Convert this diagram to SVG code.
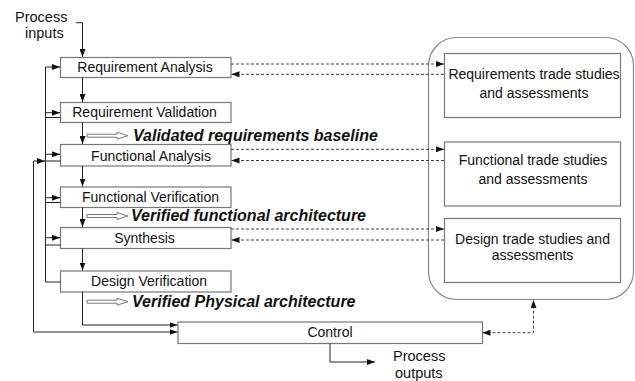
<svg xmlns="http://www.w3.org/2000/svg" width="635" height="381" viewBox="0 0 635 381">
<style>
.box{fill:#fff;stroke:#777;stroke-width:1.2}
.ln{fill:none;stroke:#222;stroke-width:1}
.dl{fill:none;stroke:#444;stroke-width:1;stroke-dasharray:3 2}
.t{font-family:"Liberation Sans",Arial,sans-serif;font-size:14px;fill:#111}
.tl{font-family:"Liberation Sans",Arial,sans-serif;font-size:14.5px;fill:#111}
.bi{font-family:"Liberation Sans",Arial,sans-serif;font-size:16px;font-weight:bold;font-style:italic;fill:#111}
.cont{fill:none;stroke:#888;stroke-width:1.2}
</style>
<defs>
<marker id="a" markerWidth="8" markerHeight="6" refX="8" refY="3" orient="auto-start-reverse" markerUnits="userSpaceOnUse"><path d="M0,0 L8,3 L0,6 z" fill="#111"/></marker>
<polygon id="hollow" points="0,-1.5 30,-1.5 30,-3.5 41,0 30,3.5 30,1.5 0,1.5" fill="#fff" stroke="#777" stroke-width="1"/>
</defs>

<g id="container"><rect class="cont" x="428.5" y="37.5" width="205" height="262" rx="28" ry="28"/></g>

<g id="process-inputs"><text class="tl" x="15" y="22">Process</text><text class="tl" x="25" y="38.3">inputs</text></g>
<g id="process-outputs"><text class="tl" x="393" y="361.2">Process</text><text class="tl" x="395" y="377.5">outputs</text></g>

<g id="req-analysis"><rect class="box" x="60.5" y="57.5" width="170.5" height="20"/><text class="t" x="145" y="72" text-anchor="middle">Requirement Analysis</text></g>
<g id="req-validation"><rect class="box" x="60.5" y="102.5" width="170.5" height="20"/><text class="t" x="144.5" y="117" text-anchor="middle">Requirement Validation</text></g>
<g id="func-analysis"><rect class="box" x="60.5" y="144.5" width="170.5" height="21.5"/><text class="t" x="151" y="160.5" text-anchor="middle">Functional Analysis</text></g>
<g id="func-verification"><rect class="box" x="60.5" y="187" width="170.5" height="20.5"/><text class="t" x="150.5" y="202" text-anchor="middle">Functional Verification</text></g>
<g id="synthesis"><rect class="box" x="60.5" y="227.5" width="170.5" height="21"/><text class="t" x="144.5" y="242.5" text-anchor="middle">Synthesis</text></g>
<g id="design-verification"><rect class="box" x="60.5" y="271" width="170.5" height="21"/><text class="t" x="149" y="286" text-anchor="middle">Design Verification</text></g>
<g id="control"><rect class="box" x="178" y="322" width="304.5" height="21.5"/><text class="t" x="330" y="336.5" text-anchor="middle">Control</text></g>

<g id="req-trade"><rect class="box" x="444.5" y="53.5" width="176" height="64"/><text class="t" x="534" y="79" text-anchor="middle">Requirements trade studies</text><text class="t" x="534" y="98" text-anchor="middle">and assessments</text></g>
<g id="func-trade"><rect class="box" x="444.5" y="142" width="176" height="64"/><text class="t" x="533" y="165" text-anchor="middle">Functional trade studies</text><text class="t" x="533" y="183.5" text-anchor="middle">and assessments</text></g>
<g id="design-trade"><rect class="box" x="444.5" y="218.5" width="176" height="64"/><text class="t" x="532.5" y="244" text-anchor="middle">Design trade studies and</text><text class="t" x="532.5" y="260" text-anchor="middle">assessments</text></g>

<g id="baselines">
<use href="#hollow" x="87" y="135.7"/><text class="bi" x="133" y="140.5">Validated requirements baseline</text>
<use href="#hollow" x="87" y="216"/><text class="bi" x="131" y="221">Verified functional architecture</text>
<use href="#hollow" x="87" y="301.7"/><text class="bi" x="132" y="306.5">Verified Physical architecture</text>
</g>

<g id="connectors">
<path class="ln" d="M76,22.7 H82.5 V57" marker-end="url(#a)"/>
<path class="ln" d="M82.5,77.5 V102" marker-end="url(#a)"/>
<path class="ln" d="M82.5,122.5 V144" marker-end="url(#a)"/>
<path class="ln" d="M82.5,166 V186.5" marker-end="url(#a)"/>
<path class="ln" d="M82.5,207.5 V227" marker-end="url(#a)"/>
<path class="ln" d="M82.5,248.5 V270.5" marker-end="url(#a)"/>
<path class="ln" d="M82.5,292 V325 H177.5" marker-end="url(#a)"/>
<path class="ln" d="M33.5,161 V332 H177.5" marker-end="url(#a)"/>
<path class="ln" d="M33.5,161 H45" marker-end="url(#a)"/>
<path class="ln" d="M45,161 H60.5"/>
<path class="ln" d="M45.5,282 V67 H60" marker-end="url(#a)"/>
<path class="ln" d="M45.5,112.7 H60" marker-end="url(#a)"/>
<path class="ln" d="M45.5,117.5 H60.5"/>
<path class="ln" d="M45.5,154.3 H60" marker-end="url(#a)"/>
<path class="ln" d="M45.5,197.7 H60" marker-end="url(#a)"/>
<path class="ln" d="M45.5,202.5 H60.5"/>
<path class="ln" d="M45.5,237.7 H60" marker-end="url(#a)"/>
<path class="ln" d="M45.5,245 H60.5"/>
<path class="ln" d="M45.5,282 H60.5"/>
<path class="ln" d="M330,343.5 V362 H375" marker-end="url(#a)"/>
<path class="dl" d="M231,64 H444" marker-end="url(#a)"/>
<path class="dl" d="M444,74.3 H231.5" marker-end="url(#a)"/>
<path class="dl" d="M231,149.3 H444" marker-end="url(#a)"/>
<path class="dl" d="M444,160.5 H231.5" marker-end="url(#a)"/>
<path class="dl" d="M231,229 H444" marker-end="url(#a)"/>
<path class="dl" d="M444,240 H231.5" marker-end="url(#a)"/>
<path class="dl" d="M482.5,332.7 H533.5 V300" marker-start="url(#a)" marker-end="url(#a)"/>
</g>
</svg>
